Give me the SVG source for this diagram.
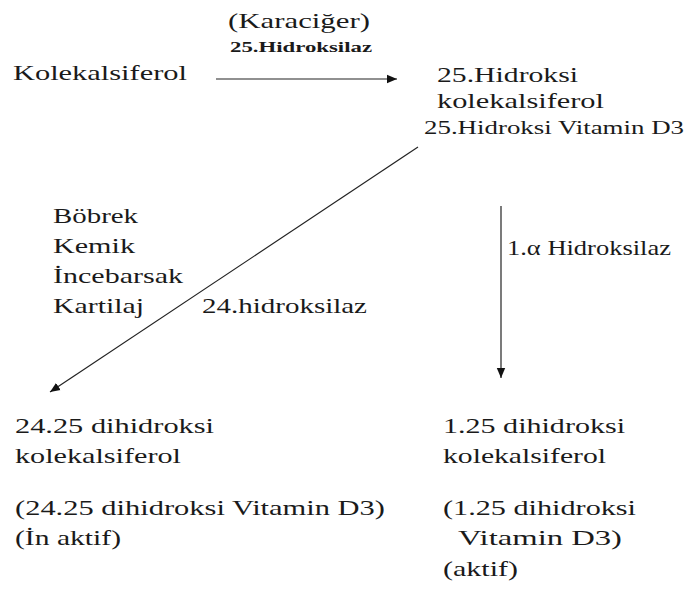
<svg xmlns="http://www.w3.org/2000/svg" width="687" height="589" viewBox="0 0 687 589">
<style>
text{fill:#1a1a1a;}
.m{font-size:22px;}
.s{font-size:19px;}
.b{font-size:15.5px;font-weight:bold;}
.c{stroke:#222;stroke-width:1.2;fill:none;}
</style>
<defs>
<marker id="ah" markerUnits="userSpaceOnUse" markerWidth="12" markerHeight="10" refX="10" refY="5" orient="auto">
<path d="M0,0.8 L10,5 L0,9.2 Z" fill="#111"/>
</marker>
</defs>
<rect width="687" height="589" fill="#fff"/>
<g id="connectors">
<line class="c" x1="216" y1="79" x2="397" y2="79" marker-end="url(#ah)"/>
<line class="c" x1="418" y1="147" x2="50" y2="392" marker-end="url(#ah)"/>
<line class="c" x1="501" y1="206" x2="501" y2="378" marker-end="url(#ah)"/>
</g>
<g font-family="Liberation Serif, Tinos, Noto Serif, DejaVu Serif, FreeSerif, serif">
<g id="edge-labels">
<text class="m" x="228" y="28" textLength="142" lengthAdjust="spacingAndGlyphs">(Karaciğer)</text>
<text class="b" x="230" y="52" textLength="142" lengthAdjust="spacingAndGlyphs">25.Hidroksilaz</text>
<text class="m" x="202" y="313" textLength="165" lengthAdjust="spacingAndGlyphs">24.hidroksilaz</text>
<text class="m" x="507" y="255" textLength="164" lengthAdjust="spacingAndGlyphs">1.α Hidroksilaz</text>
</g>
<g id="n-kolekalsiferol">
<text class="m" x="13" y="80" textLength="174" lengthAdjust="spacingAndGlyphs">Kolekalsiferol</text>
</g>
<g id="n-25-hidroksi">
<text class="m" x="437" y="82" textLength="141" lengthAdjust="spacingAndGlyphs">25.Hidroksi</text>
<text class="m" x="437" y="108" textLength="167" lengthAdjust="spacingAndGlyphs">kolekalsiferol</text>
<text class="s" x="424" y="134" textLength="260" lengthAdjust="spacingAndGlyphs">25.Hidroksi Vitamin D3</text>
</g>
<g id="n-organs">
<text class="m" x="53" y="223" textLength="85" lengthAdjust="spacingAndGlyphs">Böbrek</text>
<text class="m" x="53" y="253" textLength="82" lengthAdjust="spacingAndGlyphs">Kemik</text>
<text class="m" x="53" y="283" textLength="130" lengthAdjust="spacingAndGlyphs">İncebarsak</text>
<text class="m" x="53" y="313" textLength="91" lengthAdjust="spacingAndGlyphs">Kartilaj</text>
</g>
<g id="n-24-25">
<text class="m" x="15" y="433" textLength="199" lengthAdjust="spacingAndGlyphs">24.25 dihidroksi</text>
<text class="m" x="15" y="463" textLength="166" lengthAdjust="spacingAndGlyphs">kolekalsiferol</text>
<text class="m" x="15" y="515" textLength="370" lengthAdjust="spacingAndGlyphs">(24.25 dihidroksi Vitamin D3)</text>
<text class="m" x="15" y="545" textLength="106" lengthAdjust="spacingAndGlyphs">(İn aktif)</text>
</g>
<g id="n-1-25">
<text class="m" x="443" y="433" textLength="182" lengthAdjust="spacingAndGlyphs">1.25 dihidroksi</text>
<text class="m" x="443" y="463" textLength="163" lengthAdjust="spacingAndGlyphs">kolekalsiferol</text>
<text class="m" x="443" y="515" textLength="193" lengthAdjust="spacingAndGlyphs">(1.25 dihidroksi</text>
<text class="m" x="458" y="545" textLength="164" lengthAdjust="spacingAndGlyphs">Vitamin D3)</text>
<text class="m" x="443" y="576" textLength="75" lengthAdjust="spacingAndGlyphs">(aktif)</text>
</g>
</g>
</svg>
